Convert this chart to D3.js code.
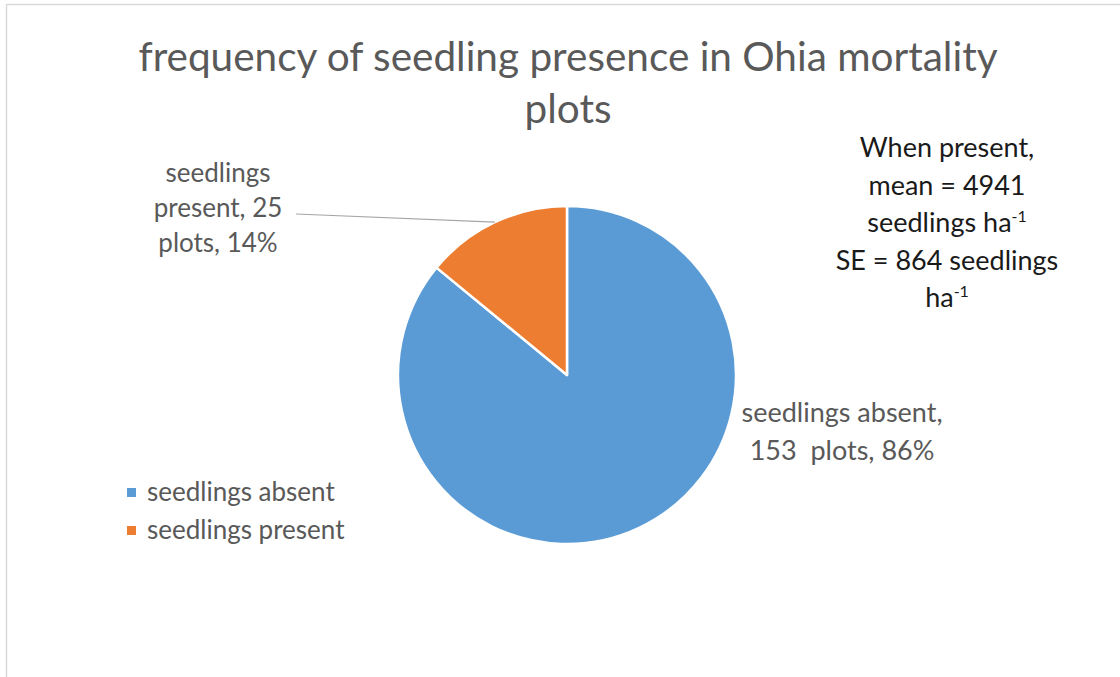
<!DOCTYPE html>
<html>
<head>
<meta charset="utf-8">
<script src="https://cdn.jsdelivr.net/npm/d3@7.9.0/dist/d3.min.js"></script>
<style>
  html, body { margin: 0; padding: 0; background: #fff; }
  svg { display: block; font-family: Lato, "Open Sans", sans-serif; }
</style>
</head>
<body>
<svg id="chart"></svg>
<script>
// data
const categories = ['seedlings absent', 'seedlings present'];
const plotCounts = [153, 25];
const percentText = ['86%', '14%'];
const sliceColors = ['#5b9bd5', '#ed7d31'];

const titleLines = ['frequency of seedling presence in Ohia mortality', 'plots'];
const absentLabelLines = ['seedlings absent,', '153\u00a0 plots, 86%'];
const presentLabelLines = ['seedlings', 'present, 25', 'plots, 14%'];
// [main text, superscript]
const noteLines = [
  ['When present,', ''],
  ['mean = 4941', ''],
  ['seedlings ha', '-1'],
  ['SE = 864 seedlings', ''],
  ['ha', '-1']
];

const width = 1120;
const height = 677;
const cx = 567, cy = 375, radius = 169;

const svg = d3.select('#chart')
  .attr('width', width)
  .attr('height', height);

// chart frame (only top and left edges show in the reference)
svg.append('rect')
  .attr('x', 6.5).attr('y', 4.5)
  .attr('width', width + 10).attr('height', height + 10)
  .attr('fill', '#fff')
  .attr('stroke', '#d9d9d9')
  .attr('stroke-width', 1.5);

// title
svg.append('text')
  .attr('text-anchor', 'middle')
  .attr('fill', '#595959')
  .attr('font-size', 40.5)
  .selectAll('tspan')
  .data(titleLines)
  .join('tspan')
    .attr('x', 568)
    .attr('y', (d, i) => 71 + i * 52)
    .text(d => d);

// pie
const pieData = categories.map((c, i) => ({ name: c, value: plotCounts[i], pct: percentText[i], color: sliceColors[i] }));
const pie = d3.pie().sort(null).value(d => d.value);
const arcs = pie(pieData);
const arc = d3.arc().innerRadius(0).outerRadius(radius);
const edge = d3.arc().innerRadius(radius).outerRadius(radius);

const g = svg.append('g').attr('transform', `translate(${cx},${cy})`);
g.selectAll('path')
  .data(arcs)
  .join('path')
    .attr('d', arc)
    .attr('fill', d => d.data.color)
    .attr('stroke', '#fff')
    .attr('stroke-width', 2.5)
    .attr('stroke-linejoin', 'round');

// leader line for the small slice
const [ex, ey] = edge.centroid(arcs[1]);
svg.append('line')
  .attr('x1', 296).attr('y1', 214)
  .attr('x2', cx + ex).attr('y2', cy + ey)
  .attr('stroke', '#a6a6a6')
  .attr('stroke-width', 1.2);

function multiLine(lines, x, y0, step, size, color) {
  svg.append('text')
    .attr('text-anchor', 'middle')
    .attr('fill', color)
    .attr('font-size', size)
    .selectAll('tspan')
    .data(lines)
    .join('tspan')
      .attr('x', x)
      .attr('y', (d, i) => y0 + i * step)
      .text(d => d);
}

multiLine(presentLabelLines, 218, 182, 35, 26, '#595959');
multiLine(absentLabelLines, 842, 422, 38, 27, '#595959');

// annotation on the right
const note = svg.append('text')
  .attr('text-anchor', 'middle')
  .attr('fill', '#1a1a1a')
  .attr('font-size', 27);
noteLines.forEach((ln, i) => {
  const line = note.append('tspan').attr('x', 947).attr('y', 157 + i * 37.5);
  line.append('tspan').text(ln[0]);
  if (ln[1]) {
    line.append('tspan')
      .attr('dy', -10)
      .attr('font-size', 16)
      .text(ln[1]);
  }
});

// legend
const legend = svg.append('g')
  .selectAll('g')
  .data(pieData)
  .join('g')
    .attr('transform', (d, i) => `translate(127, ${488 + i * 38})`);
legend.append('rect')
  .attr('width', 9).attr('height', 9)
  .attr('fill', d => d.color);
legend.append('text')
  .attr('x', 20).attr('y', 13)
  .attr('fill', '#595959')
  .attr('font-size', 26)
  .text(d => d.name);
</script>
</body>
</html>
